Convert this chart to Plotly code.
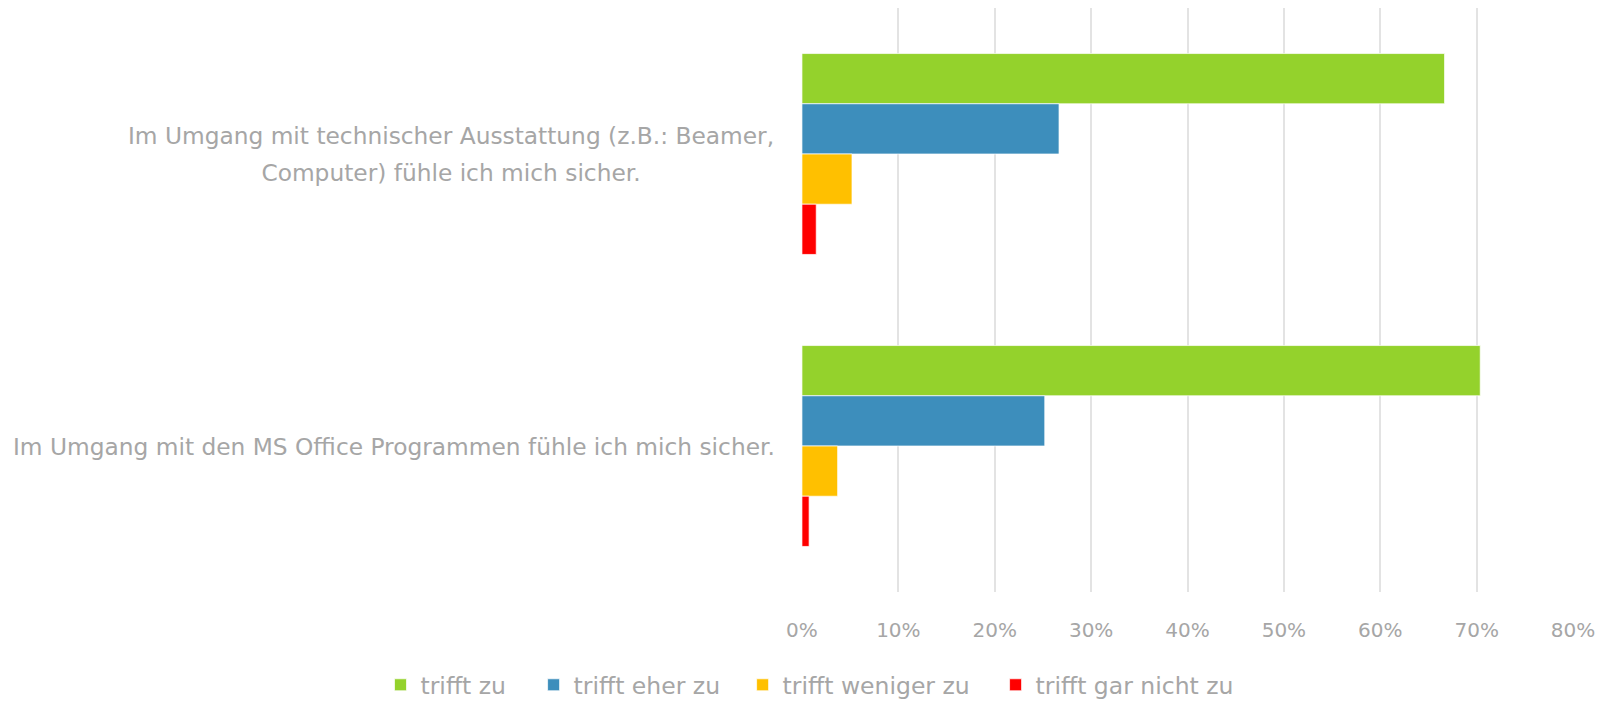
import plotly.graph_objects as go

categories = [
    "Im Umgang mit technischer Ausstattung (z.B.: Beamer,<br>Computer) fühle ich mich sicher.",
    "Im Umgang mit den MS Office Programmen fühle ich mich sicher.",
]
series_names = ["trifft zu", "trifft eher zu", "trifft weniger zu", "trifft gar nicht zu"]
series_values = [
    [0.6667, 0.7037],
    [0.2667, 0.2519],
    [0.0519, 0.0370],
    [0.0148, 0.0074],
]
series_colors = ["#94d22c", "#3d8ebc", "#ffc000", "#ff0000"]
x_ticks = [0, 0.1, 0.2, 0.3, 0.4, 0.5, 0.6, 0.7, 0.8]
x_ticklabels = ["0%", "10%", "20%", "30%", "40%", "50%", "60%", "70%", "80%"]

# styling (layout only)
FONT = "DejaVu Sans"
GREY = "#a6a6a6"
LEGEND_X = [0.2331, 0.3289, 0.4597, 0.6180]   # container fractions, one legend per series
LEGEND_Y = 0.0231
LABEL_LINE_SPACING = 37          # px between wrapped label lines
LABEL_BOX_W = 648

# the html page adds an 8px body margin (top/left); figure fills the rest of the window
W, H = 1598, 693

fig = go.Figure()
legend_ids = ["legend" if i == 0 else f"legend{i + 1}" for i in range(len(series_names))]
for name, vals, col, lid in zip(series_names, series_values, series_colors, legend_ids):
    fig.add_trace(go.Bar(
        y=categories, x=vals, name=name, orientation="h", legend=lid,
        marker=dict(color=col, line=dict(color="rgba(255,255,255,0.7)", width=1)),
        hovertemplate=name + ": %{x:.1%}<extra></extra>",
    ))

for cat in categories:
    lines = cat.split("<br>")
    n = len(lines)
    for i, line in enumerate(lines):
        kw = dict(width=LABEL_BOX_W) if n > 1 else {}
        fig.add_annotation(
            x=0, xref="paper", y=cat, yref="y", xanchor="right", yanchor="middle",
            xshift=-24, yshift=((n - 1) / 2 - i) * LABEL_LINE_SPACING,
            text=line, align="center", showarrow=False,
            font=dict(family=FONT, size=23.3, color=GREY), **kw,
        )

legend_layouts = {}
for lid, lx in zip(legend_ids, LEGEND_X):
    legend_layouts[lid] = dict(
        orientation="h", xref="container", yref="container",
        x=lx, xanchor="left", y=LEGEND_Y, yanchor="middle",
        font=dict(family=FONT, size=23.5, color=GREY),
        bgcolor="rgba(0,0,0,0)", borderwidth=0,
    )

fig.update_layout(
    width=W, height=H,
    margin=dict(l=793, r=32, t=0, b=109),
    paper_bgcolor="white", plot_bgcolor="white",
    barmode="group", bargap=0.312, bargroupgap=0,
    font=dict(family=FONT, color=GREY),
    showlegend=True,
    xaxis=dict(
        range=[-0.001, 0.801], tickvals=x_ticks, ticktext=x_ticklabels,
        showgrid=True, gridcolor="#e3e3e3", gridwidth=1.5,
        zeroline=False, showline=False, ticks="", automargin=False,
        tickfont=dict(family=FONT, size=20, color=GREY),
        ticklabelstandoff=24,
    ),
    yaxis=dict(
        autorange="reversed", showticklabels=False, showgrid=False,
        zeroline=False, showline=False, ticks="", automargin=False,
    ),
    **legend_layouts,
)

fig.write_html("out.html")
